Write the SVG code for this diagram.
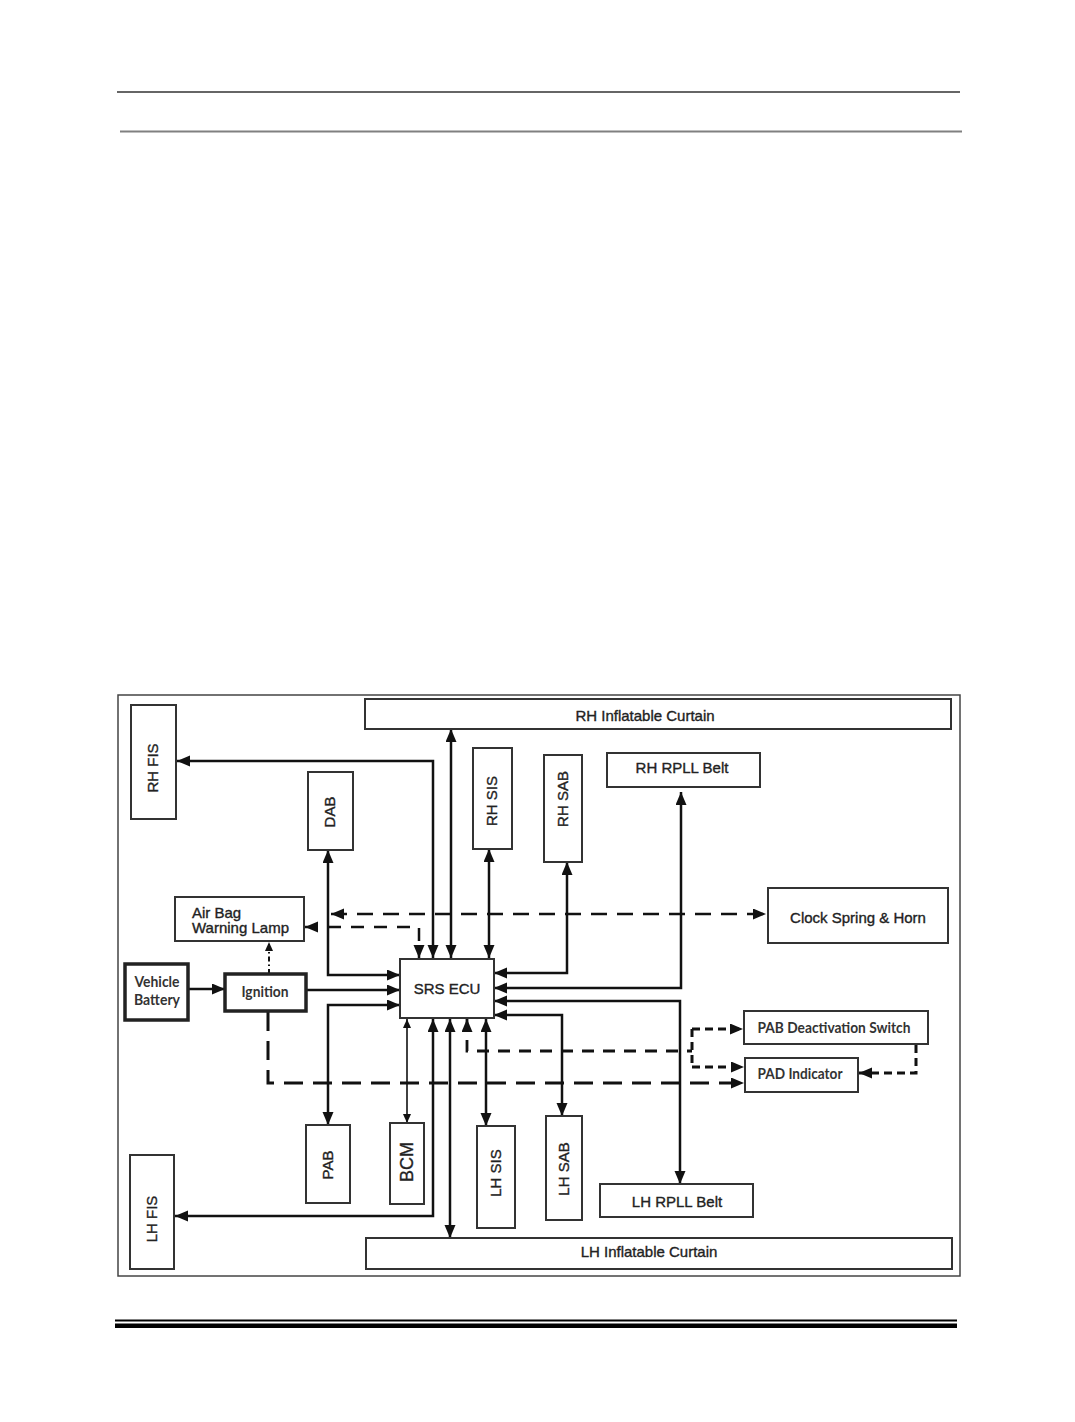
<svg xmlns="http://www.w3.org/2000/svg" width="1075" height="1422" viewBox="0 0 1075 1422">
<style>
.box{fill:#fff;stroke:#333;stroke-width:2}
.thick{fill:#fff;stroke:#222;stroke-width:3.5}
.t{font-family:"Liberation Sans",Arial,sans-serif;font-size:15px;fill:#222;stroke:#222;stroke-width:0.35}
.c{font-family:Lato,"Liberation Sans",sans-serif;font-weight:bold;font-size:14.5px;fill:#333}
.ln{fill:none;stroke:#111;stroke-width:2.5}
.thin{fill:none;stroke:#111;stroke-width:1.6}
.d1{fill:none;stroke:#111;stroke-width:2.5;stroke-dasharray:16 10}
.d2{fill:none;stroke:#111;stroke-width:2.5;stroke-dasharray:13 10}
.d3{fill:none;stroke:#111;stroke-width:2.8;stroke-dasharray:12 9}
.d4{fill:none;stroke:#111;stroke-width:3;stroke-dasharray:19 10}
.d5{fill:none;stroke:#111;stroke-width:3;stroke-dasharray:8 5}
.dot{fill:none;stroke:#111;stroke-width:2;stroke-dasharray:5 3 1.5 3}
</style>
<defs>
<marker id="a" markerUnits="userSpaceOnUse" markerWidth="14" markerHeight="12" refX="13" refY="5.5" orient="auto-start-reverse"><path d="M0,0 L13,5.5 L0,11 z" fill="#111"/></marker>
<marker id="s" markerUnits="userSpaceOnUse" markerWidth="10" markerHeight="9" refX="9" refY="4" orient="auto-start-reverse"><path d="M0,0 L9,4 L0,8 z" fill="#111"/></marker>
</defs>
<g id="page-lines">
<line x1="117" y1="92" x2="960" y2="92" stroke="#333" stroke-width="1.5"/>
<line x1="120" y1="131.5" x2="962" y2="131.5" stroke="#808080" stroke-width="2"/>
<line x1="115" y1="1320.5" x2="957" y2="1320.5" stroke="#000" stroke-width="1.8"/>
<line x1="115" y1="1325.7" x2="957" y2="1325.7" stroke="#000" stroke-width="4.6"/>
</g>
<rect id="frame" x="118" y="695" width="842" height="581" fill="none" stroke="#444" stroke-width="1.5"/>
<g id="connectors">
<path class="ln" d="M177,761 H433 V958" marker-start="url(#a)" marker-end="url(#a)"/>
<path class="ln" d="M451,729 V958" marker-start="url(#a)" marker-end="url(#a)"/>
<path class="ln" d="M489,849 V958" marker-start="url(#a)" marker-end="url(#a)"/>
<path class="ln" d="M567,862 V973 H494" marker-start="url(#a)" marker-end="url(#a)"/>
<path class="ln" d="M681,792 V988 H494" marker-start="url(#a)" marker-end="url(#a)"/>
<path class="ln" d="M494,1001 H680 V1184" marker-start="url(#a)" marker-end="url(#a)"/>
<path class="ln" d="M494,1015 H562 V1116" marker-start="url(#a)" marker-end="url(#a)"/>
<path class="ln" d="M486,1019 V1126" marker-start="url(#a)" marker-end="url(#a)"/>
<path class="ln" d="M450,1019 V1238" marker-start="url(#a)" marker-end="url(#a)"/>
<path class="ln" d="M433,1019 V1216 H175" marker-start="url(#a)" marker-end="url(#a)"/>
<path class="thin" d="M407,1019 V1123" marker-start="url(#s)" marker-end="url(#s)"/>
<path class="ln" d="M400,1005 H328 V1125" marker-start="url(#a)" marker-end="url(#a)"/>
<path class="ln" d="M328,850 V975 H400" marker-start="url(#a)" marker-end="url(#a)"/>
<path class="ln" d="M188,989 H225" marker-end="url(#a)"/>
<path class="ln" d="M306,990 H400" marker-end="url(#a)"/>
<path class="dot" d="M269,974 V942" marker-end="url(#s)"/>
<path class="d4" d="M268,1012 V1083 H744" marker-end="url(#a)"/>
<path class="d1" d="M331,914 H766" marker-start="url(#a)" marker-end="url(#a)"/>
<path class="d2" d="M305,927 H419 V958" marker-start="url(#a)" marker-end="url(#a)"/>
<path class="d3" d="M467,1019 V1051 H692" marker-start="url(#a)"/>
<path class="d5" d="M692,1029 V1067"/>
<path class="d5" d="M692,1029 H743" marker-end="url(#a)"/>
<path class="d5" d="M692,1067 H744" marker-end="url(#a)"/>
<path class="d5" d="M916,1045 V1073 H859" marker-end="url(#a)"/>
</g>
<g id="rh-fis"><rect class="box" x="131" y="705" width="45" height="114"/><text class="t" transform="translate(153,768) rotate(-90)" text-anchor="middle" dy="0.36em">RH FIS</text></g>
<g id="dab"><rect class="box" x="308" y="772" width="45" height="78"/><text class="t" transform="translate(330,812) rotate(-90)" text-anchor="middle" dy="0.36em">DAB</text></g>
<g id="airbag-lamp"><rect class="box" x="175" y="897" width="129" height="44"/><text class="t" x="192" y="918">Air Bag</text><text class="t" x="192" y="933">Warning Lamp</text></g>
<g id="vehicle-battery"><rect class="thick" x="125" y="964" width="63" height="56"/><text class="c" x="157" y="987" text-anchor="middle" textLength="45" lengthAdjust="spacingAndGlyphs">Vehicle</text><text class="c" x="157" y="1005" text-anchor="middle" textLength="46" lengthAdjust="spacingAndGlyphs">Battery</text></g>
<g id="ignition"><rect class="thick" x="225" y="974" width="81" height="37"/><text class="c" x="265" y="997" text-anchor="middle" textLength="47" lengthAdjust="spacingAndGlyphs">Ignition</text></g>
<g id="srs-ecu"><rect class="box" x="400" y="959" width="94" height="59"/><text class="t" x="447" y="994" text-anchor="middle">SRS ECU</text></g>
<g id="rh-curtain"><rect class="box" x="365" y="699" width="586" height="30"/><text class="t" x="645" y="721" text-anchor="middle">RH Inflatable Curtain</text></g>
<g id="rh-sis"><rect class="box" x="473" y="748" width="39" height="101"/><text class="t" transform="translate(492,801) rotate(-90)" text-anchor="middle" dy="0.36em">RH SIS</text></g>
<g id="rh-sab"><rect class="box" x="544" y="755" width="38" height="107"/><text class="t" transform="translate(563,799) rotate(-90)" text-anchor="middle" dy="0.36em">RH SAB</text></g>
<g id="rh-rpll"><rect class="box" x="607" y="753" width="153" height="34"/><text class="t" x="682" y="773" text-anchor="middle">RH RPLL Belt</text></g>
<g id="clock-spring"><rect class="box" x="768" y="888" width="180" height="55"/><text class="t" x="858" y="923" text-anchor="middle">Clock Spring &amp; Horn</text></g>
<g id="pab-switch"><rect class="box" x="744" y="1011" width="184" height="33"/><text class="c" x="834" y="1033" text-anchor="middle" textLength="153" lengthAdjust="spacingAndGlyphs">PAB Deactivation Switch</text></g>
<g id="pad-indicator"><rect class="box" x="745" y="1058" width="113" height="34"/><text class="c" x="800" y="1079" text-anchor="middle" textLength="85" lengthAdjust="spacingAndGlyphs">PAD Indicator</text></g>
<g id="pab"><rect class="box" x="306" y="1125" width="44" height="78"/><text class="t" transform="translate(328,1165) rotate(-90)" text-anchor="middle" dy="0.36em">PAB</text></g>
<g id="bcm"><rect class="box" x="390" y="1123" width="34" height="81"/><text class="t" style="font-size:18px" transform="translate(407,1162) rotate(-90)" text-anchor="middle" dy="0.36em">BCM</text></g>
<g id="lh-sis"><rect class="box" x="477" y="1126" width="38" height="102"/><text class="t" transform="translate(496,1173) rotate(-90)" text-anchor="middle" dy="0.36em">LH SIS</text></g>
<g id="lh-sab"><rect class="box" x="546" y="1116" width="36" height="104"/><text class="t" transform="translate(564,1169) rotate(-90)" text-anchor="middle" dy="0.36em">LH SAB</text></g>
<g id="lh-rpll"><rect class="box" x="600" y="1184" width="153" height="33"/><text class="t" x="677" y="1207" text-anchor="middle">LH RPLL Belt</text></g>
<g id="lh-fis"><rect class="box" x="130" y="1155" width="44" height="114"/><text class="t" transform="translate(152,1219) rotate(-90)" text-anchor="middle" dy="0.36em">LH FIS</text></g>
<g id="lh-curtain"><rect class="box" x="366" y="1238" width="586" height="31"/><text class="t" x="649" y="1257" text-anchor="middle">LH Inflatable Curtain</text></g>
</svg>
